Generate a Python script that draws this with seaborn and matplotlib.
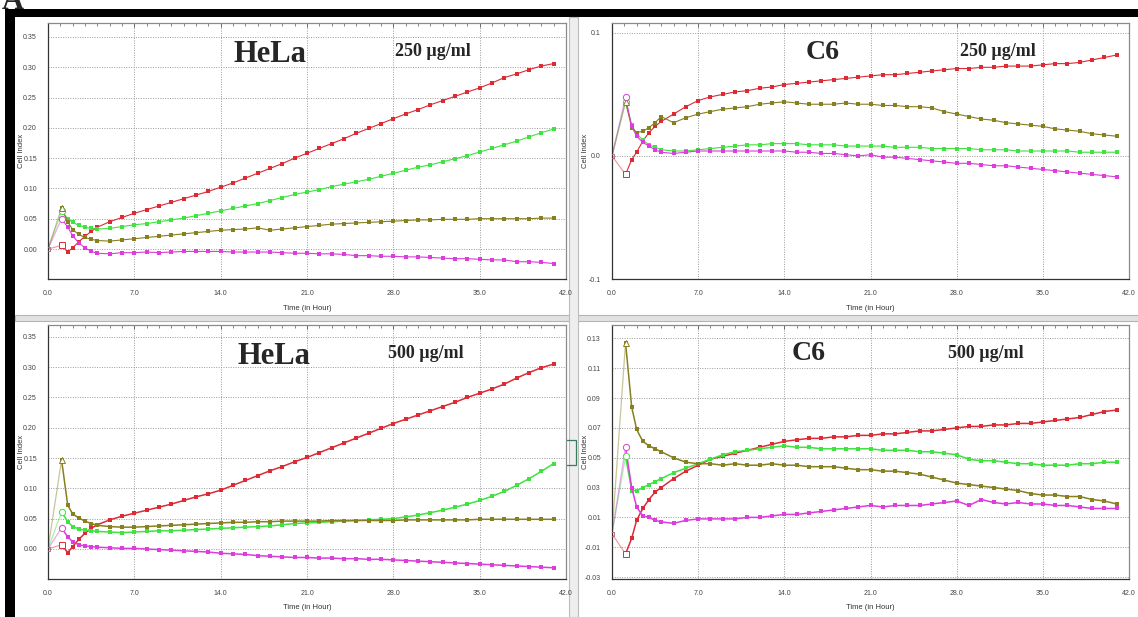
#!/usr/bin/env python3
"""Four-panel RTCA cell index curves: HeLa and C6 at 250 and 500 ug/ml."""
import matplotlib

matplotlib.use("Agg")
import matplotlib.pyplot as plt
import pandas as pd
import seaborn as sns
from matplotlib.patches import Rectangle
from matplotlib.ticker import FixedLocator, MultipleLocator

OUT = "out.png"
W, H = 1138, 617

# time in hours (shared by all curves)
TIME = [0.0, 1.1, 1.6, 2.0, 2.5, 3.0, 3.5,
        4, 5, 6, 7, 8, 9, 10, 11, 12, 13, 14, 15, 16, 17, 18, 19, 20, 21, 22,
        23, 24, 25, 26, 27, 28, 29, 30, 31, 32, 33, 34, 35, 36, 37, 38, 39, 40, 41]

SERIES = ["red", "green", "olive", "magenta"]

# HeLa, 250 ug/ml
HELA250_RED = [0.000, 0.006, -0.005, 0.002, 0.012, 0.021, 0.029,
               0.036, 0.045, 0.052, 0.059, 0.065, 0.071, 0.077, 0.083, 0.089, 0.095,
               0.102, 0.109, 0.117, 0.125, 0.133, 0.141, 0.150, 0.158, 0.166, 0.174,
               0.182, 0.191, 0.199, 0.207, 0.215, 0.223, 0.230, 0.238, 0.245, 0.252,
               0.259, 0.266, 0.274, 0.283, 0.289, 0.296, 0.302, 0.306]
HELA250_GREEN = [0.000, 0.062, 0.050, 0.044, 0.039, 0.036, 0.034,
                 0.033, 0.034, 0.037, 0.040, 0.042, 0.045, 0.048, 0.051, 0.055, 0.059,
                 0.063, 0.067, 0.071, 0.075, 0.080, 0.085, 0.090, 0.094, 0.098, 0.103,
                 0.107, 0.111, 0.115, 0.120, 0.125, 0.130, 0.135, 0.139, 0.144, 0.149,
                 0.154, 0.160, 0.166, 0.172, 0.178, 0.185, 0.192, 0.198]
HELA250_OLIVE = [0.000, 0.068, 0.045, 0.032, 0.024, 0.019, 0.016,
                 0.014, 0.013, 0.015, 0.017, 0.019, 0.021, 0.023, 0.025, 0.027, 0.029,
                 0.031, 0.032, 0.033, 0.035, 0.031, 0.033, 0.035, 0.037, 0.039, 0.041,
                 0.042, 0.043, 0.044, 0.045, 0.046, 0.047, 0.048, 0.048, 0.049, 0.049,
                 0.049, 0.050, 0.050, 0.050, 0.050, 0.050, 0.051, 0.051]
HELA250_MAGENTA = [0.000, 0.050, 0.036, 0.022, 0.010, 0.002, -0.004,
                   -0.007, -0.008, -0.006, -0.006, -0.005, -0.006, -0.005, -0.004, -0.004, -0.004,
                   -0.004, -0.005, -0.005, -0.005, -0.005, -0.006, -0.007, -0.007, -0.008, -0.008,
                   -0.009, -0.011, -0.011, -0.012, -0.012, -0.013, -0.013, -0.014, -0.015, -0.016,
                   -0.016, -0.017, -0.018, -0.018, -0.021, -0.021, -0.022, -0.024]

# C6, 250 ug/ml
C6_250_RED = [0.000, -0.015, -0.003, 0.003, 0.012, 0.019, 0.024,
              0.028, 0.034, 0.040, 0.045, 0.048, 0.050, 0.052, 0.053, 0.055, 0.056,
              0.058, 0.059, 0.060, 0.061, 0.062, 0.063, 0.064, 0.065, 0.066, 0.066,
              0.067, 0.068, 0.069, 0.070, 0.071, 0.071, 0.072, 0.072, 0.073, 0.073,
              0.073, 0.074, 0.075, 0.075, 0.076, 0.078, 0.080, 0.082]
C6_250_GREEN = [0.000, 0.044, 0.025, 0.018, 0.013, 0.009, 0.007,
                0.005, 0.004, 0.004, 0.005, 0.006, 0.007, 0.008, 0.009, 0.009, 0.010,
                0.010, 0.010, 0.009, 0.009, 0.009, 0.008, 0.008, 0.008, 0.008, 0.007,
                0.007, 0.007, 0.006, 0.006, 0.006, 0.006, 0.005, 0.005, 0.005, 0.004,
                0.004, 0.004, 0.004, 0.004, 0.003, 0.003, 0.003, 0.003]
C6_250_OLIVE = [0.000, 0.044, 0.023, 0.019, 0.020, 0.023, 0.027,
                0.032, 0.027, 0.031, 0.034, 0.036, 0.038, 0.039, 0.040, 0.042, 0.043,
                0.044, 0.043, 0.042, 0.042, 0.042, 0.043, 0.042, 0.042, 0.041, 0.041,
                0.040, 0.040, 0.039, 0.036, 0.034, 0.032, 0.030, 0.029, 0.027, 0.026,
                0.025, 0.024, 0.022, 0.021, 0.020, 0.018, 0.017, 0.016]
C6_250_MAGENTA = [0.000, 0.048, 0.024, 0.016, 0.011, 0.008, 0.005,
                  0.003, 0.002, 0.003, 0.004, 0.004, 0.004, 0.004, 0.004, 0.004, 0.004,
                  0.004, 0.003, 0.003, 0.002, 0.002, 0.001, 0.000, 0.001, -0.001, -0.001,
                  -0.002, -0.003, -0.004, -0.005, -0.006, -0.006, -0.007, -0.008, -0.008, -0.009,
                  -0.010, -0.011, -0.012, -0.013, -0.014, -0.015, -0.016, -0.017]

# HeLa, 500 ug/ml
HELA500_RED = [0.000, 0.007, -0.006, 0.004, 0.016, 0.026, 0.034,
               0.040, 0.048, 0.054, 0.059, 0.064, 0.069, 0.074, 0.080, 0.086, 0.091,
               0.097, 0.105, 0.113, 0.121, 0.129, 0.136, 0.144, 0.151, 0.159, 0.167,
               0.175, 0.183, 0.191, 0.199, 0.207, 0.214, 0.221, 0.228, 0.235, 0.242,
               0.250, 0.257, 0.264, 0.272, 0.282, 0.291, 0.299, 0.305]
HELA500_GREEN = [0.000, 0.061, 0.045, 0.037, 0.033, 0.031, 0.030,
                 0.029, 0.028, 0.027, 0.028, 0.029, 0.030, 0.030, 0.031, 0.032, 0.033,
                 0.034, 0.035, 0.036, 0.037, 0.038, 0.040, 0.042, 0.043, 0.044, 0.045,
                 0.046, 0.047, 0.048, 0.049, 0.050, 0.053, 0.056, 0.060, 0.064, 0.069,
                 0.074, 0.080, 0.087, 0.095, 0.105, 0.116, 0.128, 0.141]
HELA500_OLIVE = [0.000, 0.147, 0.072, 0.058, 0.051, 0.046, 0.042,
                 0.039, 0.037, 0.036, 0.036, 0.037, 0.038, 0.039, 0.040, 0.041, 0.042,
                 0.043, 0.044, 0.044, 0.045, 0.045, 0.046, 0.046, 0.046, 0.046, 0.047,
                 0.047, 0.047, 0.047, 0.047, 0.047, 0.048, 0.048, 0.048, 0.048, 0.048,
                 0.048, 0.049, 0.049, 0.049, 0.049, 0.049, 0.049, 0.049]
HELA500_MAGENTA = [0.000, 0.035, 0.020, 0.012, 0.007, 0.005, 0.004,
                   0.003, 0.002, 0.001, 0.001, 0.000, -0.001, -0.002, -0.003, -0.004, -0.005,
                   -0.007, -0.008, -0.009, -0.011, -0.012, -0.013, -0.014, -0.014, -0.015, -0.015,
                   -0.016, -0.016, -0.017, -0.017, -0.018, -0.019, -0.020, -0.021, -0.022, -0.023,
                   -0.024, -0.025, -0.026, -0.027, -0.028, -0.029, -0.030, -0.031]

# C6, 500 ug/ml
C6_500_RED = [-0.001, -0.0145, -0.004, 0.008, 0.016, 0.022, 0.027,
              0.030, 0.036, 0.041, 0.045, 0.049, 0.051, 0.053, 0.055, 0.057, 0.059,
              0.061, 0.062, 0.063, 0.063, 0.064, 0.064, 0.065, 0.065, 0.066, 0.066,
              0.067, 0.068, 0.068, 0.069, 0.070, 0.071, 0.071, 0.072, 0.072, 0.073,
              0.073, 0.074, 0.075, 0.076, 0.077, 0.079, 0.081, 0.082]
C6_500_GREEN = [-0.001, 0.051, 0.028, 0.028, 0.030, 0.032, 0.034,
                0.036, 0.040, 0.043, 0.046, 0.049, 0.052, 0.054, 0.055, 0.056, 0.057,
                0.058, 0.057, 0.057, 0.056, 0.056, 0.056, 0.056, 0.056, 0.055, 0.055,
                0.055, 0.054, 0.054, 0.053, 0.052, 0.049, 0.048, 0.048, 0.047, 0.046,
                0.046, 0.045, 0.045, 0.045, 0.046, 0.046, 0.047, 0.047]
C6_500_OLIVE = [-0.001, 0.127, 0.084, 0.069, 0.061, 0.058, 0.056,
                0.054, 0.050, 0.047, 0.046, 0.046, 0.045, 0.046, 0.045, 0.045, 0.046,
                0.045, 0.045, 0.044, 0.044, 0.044, 0.043, 0.042, 0.042, 0.041, 0.041,
                0.040, 0.039, 0.037, 0.035, 0.033, 0.032, 0.031, 0.030, 0.029, 0.028,
                0.026, 0.025, 0.025, 0.024, 0.024, 0.022, 0.021, 0.019]
C6_500_MAGENTA = [-0.001, 0.057, 0.030, 0.017, 0.011, 0.010, 0.008,
                  0.007, 0.006, 0.008, 0.009, 0.009, 0.009, 0.009, 0.010, 0.010, 0.011,
                  0.012, 0.012, 0.013, 0.014, 0.015, 0.016, 0.017, 0.018, 0.017, 0.018,
                  0.018, 0.018, 0.019, 0.020, 0.021, 0.018, 0.022, 0.020, 0.019, 0.020,
                  0.019, 0.019, 0.018, 0.018, 0.017, 0.016, 0.016, 0.016]

COLORS = {"red": "#dd2b36", "green": "#3fe23f", "olive": "#86801f", "magenta": "#dc3ddc"}
PEAK_MARKERS = {"red": "s", "green": "o", "olive": "^", "magenta": "o"}

HELA_YTICKS = [-0.05, 0.0, 0.05, 0.10, 0.15, 0.20, 0.25, 0.30, 0.35]
C6_250_YTICKS = [-0.1, 0.0, 0.1]
C6_500_YTICKS = [-0.03, -0.01, 0.01, 0.03, 0.05, 0.07, 0.09, 0.11, 0.13]
XTICKS = [0, 7, 14, 21, 28, 35, 42]

PANELS = [
    dict(box=(48, 23, 566, 279), data=[HELA250_RED, HELA250_GREEN, HELA250_OLIVE, HELA250_MAGENTA],
         ylim=(-0.0495, 0.373), yticks=HELA_YTICKS, fmt="{:.2f}", minor=0.01,
         cell="HeLa", conc="250 µg/ml", cell_at=(233, 62), conc_at=(395, 56), cell_size=22, big=False),
    dict(box=(612, 23, 1129, 279), data=[C6_250_RED, C6_250_GREEN, C6_250_OLIVE, C6_250_MAGENTA],
         ylim=(-0.1, 0.108), yticks=C6_250_YTICKS, fmt="{:.1f}", minor=0.01,
         cell="C6", conc="250 µg/ml", cell_at=(806, 59), conc_at=(960, 56), cell_size=20, big=False),
    dict(box=(48, 325, 566, 579), data=[HELA500_RED, HELA500_GREEN, HELA500_OLIVE, HELA500_MAGENTA],
         ylim=(-0.0495, 0.3695), yticks=HELA_YTICKS, fmt="{:.2f}", minor=0.01,
         cell="HeLa", conc="500 µg/ml", cell_at=(238, 364), conc_at=(388, 358), cell_size=22, big=True),
    dict(box=(612, 325, 1129, 579), data=[C6_500_RED, C6_500_GREEN, C6_500_OLIVE, C6_500_MAGENTA],
         ylim=(-0.0313, 0.139), yticks=C6_500_YTICKS, fmt="{:.2f}", minor=0.002,
         cell="C6", conc="500 µg/ml", cell_at=(792, 360), conc_at=(948, 358), cell_size=20, big=True),
]


def fig_rect(l, t, r, b):
    return [l / W, 1 - b / H, (r - l) / W, (b - t) / H]


def px(x, y):
    return x / W, 1 - y / H


def add_box(fig, l, t, r, b, face, edge="none", lw=0.0):
    x0, y0, w, h = fig_rect(l, t, r, b)
    fig.add_artist(Rectangle((x0, y0), w, h, transform=fig.transFigure,
                             facecolor=face, edgecolor=edge, linewidth=lw, zorder=0))


def draw_panel(fig, p):
    ax = fig.add_axes(fig_rect(*p["box"]))
    ax.set_facecolor("white")
    rows = []
    for name, vals in zip(SERIES, p["data"]):
        for t, v in zip(TIME, vals):
            rows.append({"time": t, "ci": v, "series": name})
    df = pd.DataFrame(rows)

    # first leg (0 h -> first reading) is drawn faint, as in the instrument software
    for name in SERIES:
        s = df[df.series == name]
        ax.plot(s.time.iloc[:2], s.ci.iloc[:2], color=COLORS[name], alpha=0.45, lw=0.9, zorder=2)

    sns.lineplot(data=df[df.time > 0], x="time", y="ci", hue="series", hue_order=SERIES,
                 palette=COLORS, estimator=None, sort=True, legend=False, ax=ax,
                 marker="s", markersize=3.2 if p["big"] else 2.3, markeredgewidth=0,
                 linewidth=1.1 if p["big"] else 0.8, zorder=3)

    for name in SERIES:
        s = df[df.series == name]
        ax.plot(s.time.iloc[1], s.ci.iloc[1], marker=PEAK_MARKERS[name], ms=4.5,
                mfc="white", mec=COLORS[name], mew=0.7, zorder=4)
        ax.plot(s.time.iloc[0], s.ci.iloc[0], marker="s", ms=3, mfc="none",
                mec=COLORS[name], mew=0.5, alpha=0.6, zorder=4)

    ax.set_xlim(0, 42)
    ax.set_ylim(*p["ylim"])
    ax.xaxis.set_major_locator(FixedLocator(XTICKS))
    ax.set_xticklabels([f"{v:.1f}" for v in XTICKS])
    ax.xaxis.set_minor_locator(MultipleLocator(1.0))
    ax.yaxis.set_major_locator(FixedLocator(p["yticks"]))
    ax.set_yticklabels([p["fmt"].format(v) for v in p["yticks"]])
    ax.yaxis.set_minor_locator(MultipleLocator(p["minor"]))

    ax.grid(True, which="major", linestyle=(0, (1, 1.5)), color="#9a9a9a", linewidth=0.7)
    ax.tick_params(which="both", direction="in", top=True, right=False, colors="#555555",
                   labelsize=5, pad=8, labelcolor="#444444")
    ax.tick_params(which="major", length=3, width=0.6)
    ax.tick_params(which="minor", length=2, width=0.5)
    for sp in ax.spines.values():
        sp.set_color("#8a8a8a")
        sp.set_linewidth(0.9)
    ax.spines["left"].set_color("#333333")
    ax.spines["bottom"].set_color("#333333")

    ax.set_xlabel("Time (in Hour)", fontsize=5.5, color="#333333")
    ax.set_ylabel("Cell Index", fontsize=5.5, color="#333333")
    ax.xaxis.set_label_coords(0.5, -0.10)
    ax.yaxis.set_label_coords(-0.045, 0.5)

    fig.text(*px(*p["cell_at"]), p["cell"], family="Liberation Serif", weight="bold",
             size=p["cell_size"], va="baseline", ha="left")
    fig.text(*px(*p["conc_at"]), p["conc"], family="Liberation Serif", weight="bold",
             size=13, va="baseline", ha="left")
    return ax


def main():
    sns.set_theme(style="white")
    plt.rcParams["font.family"] = ["Liberation Sans", "DejaVu Sans"]

    fig = plt.figure(figsize=(W / 100, H / 100), dpi=100)
    fig.patch.set_facecolor("white")

    # window chrome: black frame, grey separators between the four panes
    add_box(fig, 5, 9, 1138, 17, "black")
    add_box(fig, 5, 9, 15, 617, "black")
    add_box(fig, 15, 315, 1138, 321, "#e2e2e2", "#b4b4b4", 0.8)
    add_box(fig, 569, 17, 578, 617, "#eeeeee", "#bcbcbc", 0.8)
    add_box(fig, 565, 440, 576, 465, "none", "#3c7a5c", 0.9)

    # panel letter, mostly above the top edge as in the source screenshot
    fig.text(*px(2, 9), "A", family="Liberation Serif", weight="bold", size=22,
             va="baseline", ha="left")

    for p in PANELS:
        draw_panel(fig, p)

    fig.savefig(OUT, dpi=100)


if __name__ == "__main__":
    main()
